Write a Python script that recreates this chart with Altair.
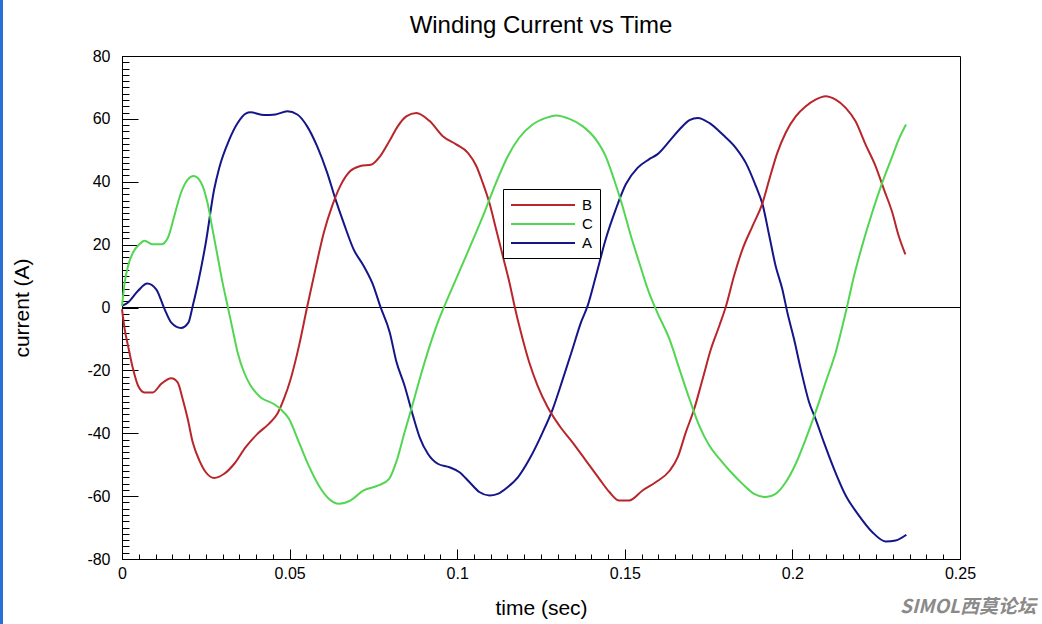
import altair as alt
import pandas as pd

# ---- data ----
t_A = [0, .0018, .0048, .0075, .0102, .0127, .0147, .0176, .0198, .0211, .0226, .025, .0275, .029, .032, .0345,
       .0369, .0384, .0424, .0458, .0493, .0523, .0552, .0582, .0612, .0637, .0661, .0691, .0721, .075, .077,
       .0799, .0818, .0843, .0868, .0888, .0913, .0942, .0977, .1007, .1037, .1066, .1096, .1121, .1151, .1181,
       .1216, .1255, .1285, .1315, .1344, .1369, .1389, .1414, .1443, .1473, .1503, .1538, .1572, .1597, .1633,
       .1663, .1693, .1718, .1752, .1792, .1831, .1861, .1891, .1911, .1931, .195, .197, .1985, .2005, .2025,
       .205, .2069, .2094, .2124, .2159, .2198, .2238, .2278, .2308, .234]
v_A = [0.5, 1.6, 5.3, 7.6, 5.8, -0.5, -4.8, -6.5, -4.8, 0.5, 7.4, 20.6, 37.6, 44.4, 53.4, 58.7,
       61.7, 62.1, 61.2, 61.4, 62.4, 61.4, 57.7, 51.3, 42.9, 34.4, 27, 18.5, 13.2, 6.9, 0.5,
       -8, -17, -24.9, -34.4, -41.3, -46.6, -49.7, -50.8, -52.4, -55.6, -58.7, -59.8, -59.3, -57.1, -54,
       -48.1, -39.7, -32.3, -22.8, -13.2, -4.8, 0.5, 10.1, 21.7, 31.2, 39.2, 44.4, 47.1, 48.7, 52.9,
       56.6, 59.6, 60.3, 58.7, 55, 50.8, 46, 38.6, 32.8, 22.8, 13.2, 5.8, -1.6, -10.1, -19.6,
       -30.2, -35.4, -42.9, -51.3, -59.8, -66.1, -71.4, -74.4, -74.1, -72.3]

t_B = [0, .0008, .0018, .0033, .0048, .0067, .0092, .0117, .0147, .0166, .0181, .0196, .0211, .0231, .025, .0275,
       .0305, .0335, .0369, .0404, .0438, .0463, .0483, .0503, .0528, .0552, .0577, .0602, .0627, .0651, .0681,
       .0711, .0745, .077, .0799, .0823, .0848, .0878, .0918, .0957, .0997, .1032, .1057, .1076, .1096, .1116,
       .1136, .1156, .1171, .119, .1215, .124, .127, .1305, .1344, .1384, .1424, .1454, .1483, .1513, .1553,
       .1592, .1633, .1658, .1682, .1707, .1732, .1757, .1782, .1802, .1826, .1851, .1881, .1911, .1931, .1955,
       .198, .201, .204, .2069, .2099, .2129, .2159, .2188, .2218, .2248, .2273, .2298, .2317, .2337]
v_B = [-0.5, -6.9, -12.2, -19.6, -24.9, -27, -27, -24.3, -22.5, -23.8, -29.1, -35.4, -42.9, -48.7, -52.4, -54.2,
       -52.9, -49.7, -44.4, -40.2, -37, -33.9, -29.1, -22.8, -12.2, 0, 12.2, 23.8, 32.3, 38.6, 43.4,
       45, 45.5, 48.1, 53.2, 57.7, 60.8, 61.9, 59.3, 54.5, 51.9, 49.2, 45, 39.7, 33.3, 24.9,
       16.4, 7.9, 0.5, -7.9, -17.5, -24.9, -31.7, -37.6, -42.9, -48.7, -54.5, -58.7, -61.4, -61.4, -58.2,
       -55.6, -52, -47.6, -39.7, -32.3, -22.8, -13.2, -5.8, 0.5, 10.1, 18.5, 25.9, 33.3, 40.7, 49.2,
       55.6, 60.8, 64, 66.1, 67.2, 66.1, 63.5, 59.3, 51.9, 45, 37.6, 30.2, 22.8, 16.9]

t_C = [0, .0008, .0018, .0033, .0052, .0067, .0092, .0117, .0137, .0156, .0176, .0196, .0214, .0236, .0255, .027,
       .0285, .03, .0315, .033, .0345, .0364, .0384, .0414, .0453, .0473, .0498, .0528, .0557, .0587, .0617,
       .0647, .0681, .0721, .0765, .0797, .0818, .0843, .0863, .0888, .0918, .0942, .0962, .0992, .1022, .1052,
       .1081, .1116, .1151, .1185, .1225, .1265, .1295, .1335, .1374, .1414, .1443, .1468, .1493, .1518, .1543,
       .1572, .1597, .1633, .1663, .1693, .1722, .1752, .1782, .1817, .1851, .1886, .1921, .195, .198, .201,
       .204, .2069, .2099, .2129, .2159, .2184, .2208, .2238, .2268, .2298, .2317, .2339]
v_C = [0.5, 7.9, 13.2, 17.5, 20.1, 21.2, 20.1, 20.1, 22.2, 29.1, 36.5, 40.7, 41.8, 39.7, 33.3, 24.9,
       16.4, 7.9, 0.5, -6.9, -14.3, -20.6, -24.9, -28.6, -30.7, -32.3, -35.4, -42.9, -50.3, -56.6, -60.8,
       -62.4, -61.4, -58.2, -56.6, -54.5, -49.2, -39.7, -32.3, -22.8, -12.2, -4.8, 0.5, 7.9, 15.3, 22.8,
       30.2, 39.7, 48.1, 54, 58.2, 60.3, 61.1, 60, 57.7, 53.4, 48.1, 40.7, 32.3, 22.8, 14.3,
       4.8, -1.6, -10, -19.6, -29.1, -37.6, -43.9, -48.1, -52.4, -56.1, -59.3, -60.3, -59.3, -55.6, -49.7,
       -41.8, -33.3, -23.8, -14.3, -1.6, 10.1, 19.6, 30.2, 39.7, 48.1, 53.4, 58.2]

series_order = ["B", "C", "A"]
series_colors = ["#b8262b", "#52d652", "#15158a"]

y_major = [-80, -60, -40, -20, 0, 20, 40, 60, 80]
y_minor = list(range(-80, 81, 2))
x_major = [0, 0.05, 0.1, 0.15, 0.2, 0.25]
x_minor = [i * 0.005 for i in range(51)]

chart_title = "Winding Current vs Time"
x_title = "time (sec)"
y_title = "current (A)"
watermark_text = "SIMOL西莫论坛"

frames = []
for name, ts, vs in (("A", t_A, v_A), ("B", t_B, v_B), ("C", t_C, v_C)):
    frames.append(pd.DataFrame({"t": ts, "v": vs, "series": name}))
df = pd.concat(frames, ignore_index=True)
one = pd.DataFrame({"title": [chart_title], "mark": [watermark_text]})

W, H = 838, 503
FONT = "Liberation Sans"

xs = alt.Scale(domain=[0, 0.25], nice=False, zero=False)
ys = alt.Scale(domain=[-80, 80], nice=False, zero=False)

base = alt.Chart(df)

lines = base.mark_line(strokeWidth=2, interpolate="monotone").encode(
    x=alt.X("t:Q", scale=xs, axis=alt.Axis(
        values=x_major, format="~g", ticks=False, grid=False, domainColor="black", labelPadding=6,
        labelFont=FONT, labelFontSize=16, labelColor="black", labelFlush=False,
        title=x_title, titleFont=FONT, titleFontSize=21, titleFontWeight="normal",
        titleColor="black", titleX=W / 2, titleY=49, titleBaseline="middle", titleAlign="center")),
    y=alt.Y("v:Q", scale=ys, axis=alt.Axis(
        values=y_major, ticks=False, grid=False, domainColor="black", labelPadding=12,
        labelFont=FONT, labelFontSize=16, labelColor="black", labelFlush=False,
        labelExpr="replace(datum.label, '\u2212', '-')",
        title=y_title, titleFont=FONT, titleFontSize=21, titleFontWeight="normal",
        titleColor="black", titleX=-100, titleY=H / 2, titleAngle=-90,
        titleBaseline="middle", titleAlign="center")),
    color=alt.Color("series:N", scale=alt.Scale(domain=series_order, range=series_colors),
                    legend=alt.Legend(title=None, orient="none", legendX=381, legendY=133,
                                      symbolType="M-4,0H4", symbolSize=256, symbolStrokeWidth=2,
                                      symbolFillColor="transparent", symbolOffset=24,
                                      labelFont=FONT, labelFontSize=15, labelColor="black",
                                      labelOffset=30, strokeColor="black", fillColor="white",
                                      padding=7, rowPadding=2)),
    detail="series:N",
)

zero = alt.Chart(df).mark_rule(color="black", strokeWidth=1).encode(
    y=alt.YDatum(0, scale=ys, axis=None)
)


def tick_layer(xaxis, yaxis):
    return base.mark_point(opacity=0).encode(
        x=alt.X("t:Q", scale=xs, axis=xaxis),
        y=alt.Y("v:Q", scale=ys, axis=yaxis),
    )


tick_kw = dict(labels=False, domain=False, grid=False, title=None, tickColor="black", tickWidth=1)
y_minor_l = tick_layer(None, alt.Axis(orient="right", offset=-W, values=y_minor, tickSize=7, **tick_kw))
y_major_l = tick_layer(None, alt.Axis(orient="right", offset=-W, values=y_major, tickSize=16, **tick_kw))
x_minor_l = tick_layer(alt.Axis(orient="top", offset=-H, values=x_minor, tickSize=5, **tick_kw), None)
x_major_l = tick_layer(alt.Axis(orient="top", offset=-H, values=x_major, tickSize=10, **tick_kw), None)

frame_left = alt.Chart(one).mark_rule(color="#2a6fd6", strokeWidth=3).encode(
    x=alt.value(-120.5), y=alt.value(-56), y2=alt.value(568)
)

title_mark = alt.Chart(one).mark_text(
    align="center", baseline="alphabetic", fontSize=24, font=FONT, color="black"
).encode(text="title:N", x=alt.value(W / 2), y=alt.value(-23))

watermark = alt.Chart(one).mark_text(
    align="right", baseline="middle", fontSize=19, fontWeight="bold",
    fontStyle="italic", color="#8a8a8a", font="Noto Sans CJK SC"
).encode(text="mark:N", x=alt.value(914), y=alt.value(551))

chart = alt.layer(
    zero, y_minor_l, y_major_l, x_minor_l, x_major_l, lines, frame_left, title_mark, watermark
).resolve_axis(x="independent", y="independent").properties(
    width=W, height=H,
    autosize=alt.AutoSizeParams(type="none"),
    padding={"left": 122, "top": 56, "right": 82, "bottom": 65},
    background="white",
).configure_view(stroke="black", strokeWidth=1)

chart.save("out.html", embed_options={"renderer": "svg", "actions": False})
